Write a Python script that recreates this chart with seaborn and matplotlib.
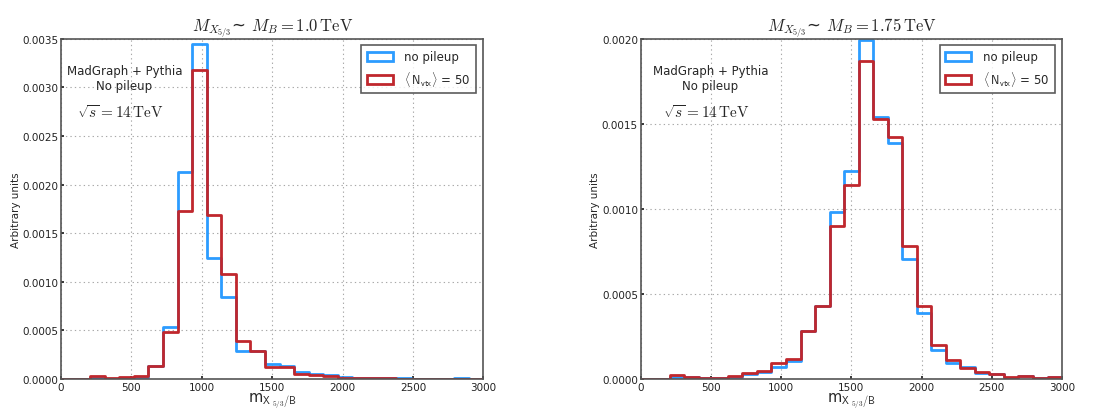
import numpy as np
import pandas as pd
import matplotlib
matplotlib.use("Agg")
import matplotlib.pyplot as plt
import seaborn as sns
from matplotlib.patches import Patch
from matplotlib.ticker import FormatStrFormatter, MultipleLocator

# ---- data ----
n_bins = 29
x_range = (0, 3000)
titles = [r"$M_{X_{5/3}}$~ $M_B = 1.0\,\mathrm{TeV}$",
          r"$M_{X_{5/3}}$~ $M_B = 1.75\,\mathrm{TeV}$"]
series_labels = ["no pileup", r"$\langle\,\mathsf{N_{vtx}}\rangle$ = 50"]

nopu_1000 = [0, 0, 0.00001, 0.000005, 0.00001, 0.00002, 0.000135, 0.00054, 0.00213, 0.00345,
             0.00125, 0.00084, 0.00029, 0.00029, 0.000157, 0.00013, 0.00007, 0.00005, 0.000045,
             0.00002, 0.000015, 0.000012, 0.00001, 0.00001, 0.000004, 0.000002, 0.000003,
             0.000007, 0.000002]
pu50_1000 = [0, 0, 0.00003, 0.00001, 0.00002, 0.000034, 0.000133, 0.00048, 0.00173, 0.00318,
             0.00169, 0.00108, 0.00039, 0.00029, 0.000123, 0.00012, 0.00005, 0.00004, 0.00003,
             0.000012, 0.00001, 0.00001, 0.000012, 0.000003, 0.000002, 0.000002, 0.000004,
             0.000003, 0.000002]
nopu_1750 = [0, 0, 0.00001, 0.00001, 0.000004, 0.000004, 0.00001, 0.00003, 0.00004, 0.00007,
             0.000105, 0.00028, 0.00043, 0.00098, 0.00122, 0.00199, 0.00154, 0.00139, 0.000706,
             0.00039, 0.00017, 0.000094, 0.000073, 0.000034, 0.000027, 0.000008, 0.000017,
             0.000008, 0.00001]
pu50_1750 = [0, 0, 0.000024, 0.000014, 0.000006, 0.000008, 0.000016, 0.000037, 0.00005, 0.000092,
             0.000118, 0.000285, 0.00043, 0.0009, 0.00114, 0.00187, 0.00153, 0.00142, 0.00078,
             0.00043, 0.0002, 0.000114, 0.000065, 0.00004, 0.00003, 0.000014, 0.00002,
             0.000008, 0.000015]

ymax = [0.0035, 0.0020]
ystep = [0.0005, 0.0005]

sns.set_theme(style="white")
plt.rcParams["font.family"] = ["DejaVu Sans"]
plt.rcParams["mathtext.fontset"] = "cm"

blue = "#2c9cff"
red = "#c0272d"

fig = plt.figure(figsize=(11, 4.1), dpi=100)
ax1 = fig.add_axes([0.0555, 0.073, 0.384, 0.830])
ax2 = fig.add_axes([0.5825, 0.073, 0.383, 0.830])

edges = np.linspace(x_range[0], x_range[1], n_bins + 1)
centers = 0.5 * (edges[:-1] + edges[1:])
datasets = [(nopu_1000, pu50_1000), (nopu_1750, pu50_1750)]
text_x = [0.15, 0.165]

for i, ax in enumerate([ax1, ax2]):
    nopu, pu = datasets[i]
    df_a = pd.DataFrame({"m": centers, "w": np.asarray(nopu, float)})
    df_b = pd.DataFrame({"m": centers, "w": np.asarray(pu, float)})
    sns.histplot(data=df_a, x="m", weights="w", bins=n_bins, binrange=x_range,
                 element="step", fill=False, color=blue, linewidth=2.0, ax=ax)
    sns.histplot(data=df_b, x="m", weights="w", bins=n_bins, binrange=x_range,
                 element="step", fill=False, color=red, linewidth=2.0, ax=ax)
    ax.set_xlim(0, 3000)
    ax.set_ylim(0, ymax[i])
    ax.xaxis.set_major_locator(MultipleLocator(500))
    ax.yaxis.set_major_locator(MultipleLocator(ystep[i]))
    ax.yaxis.set_major_formatter(FormatStrFormatter("%.4f"))
    ax.tick_params(axis="both", labelsize=7.5, length=2, pad=2, colors="#222222")
    ax.tick_params(axis="both", which="both", direction="in", bottom=True, left=True)
    ax.grid(True, linestyle=(0, (1.2, 2.8)), color="#a8a8a8", linewidth=0.8)
    for sp in ax.spines.values():
        sp.set_color("#555555")
        sp.set_linewidth(1.2)
    ax.set_ylabel("Arbitrary units", fontsize=7.5, labelpad=1)
    ax.set_xlabel(r"m$_{\mathsf{X}_{\ \mathsf{5/3}}\mathsf{/ B}}$", fontsize=10.5, labelpad=-1)
    ax.set_title(titles[i], fontsize=12, pad=6)
    ax.text(text_x[i], 0.885, "MadGraph + Pythia\nNo pileup", transform=ax.transAxes,
            ha="center", va="center", fontsize=8.5, linespacing=1.25)
    ax.text(text_x[i] - 0.01, 0.785, r"$\sqrt{s} = 14\,\mathrm{TeV}$", transform=ax.transAxes,
            ha="center", va="center", fontsize=11)
    handles = [Patch(facecolor="none", edgecolor=blue, linewidth=2),
               Patch(facecolor="none", edgecolor=red, linewidth=2)]
    leg = ax.legend(handles, series_labels, loc="upper right", fontsize=8.5, frameon=True,
                    fancybox=False, borderpad=0.45, handlelength=2.2, handleheight=0.8,
                    handletextpad=1.0, borderaxespad=0, labelspacing=0.5,
                    bbox_to_anchor=(0.983, 0.982))
    leg.get_frame().set_edgecolor("#333333")
    leg.get_frame().set_linewidth(1.2)

fig.savefig("out.png", dpi=100)
